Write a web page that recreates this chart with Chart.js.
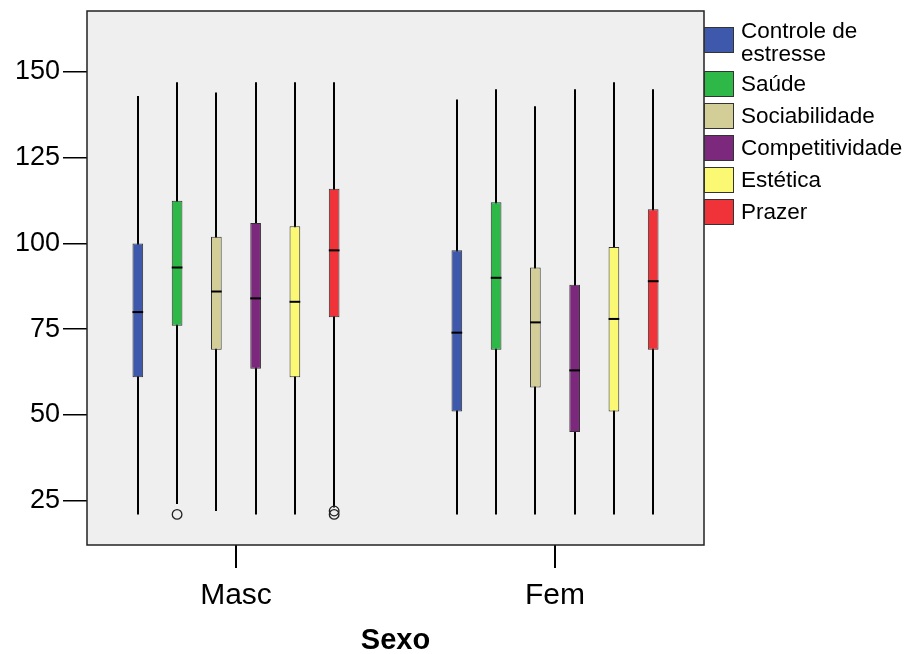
<!DOCTYPE html>
<html><head><meta charset="utf-8">
<script src="https://cdn.jsdelivr.net/npm/chart.js@4/dist/chart.umd.min.js"></script>
<style>html,body{margin:0;padding:0;background:#fff;}</style>
</head><body>
<canvas id="c" width="907" height="654"></canvas>
<script>
// ---- data ----
const categories = ['Masc', 'Fem'];
const seriesNames = [['Controle de', 'estresse'], ['Saúde'], ['Sociabilidade'], ['Competitividade'], ['Estética'], ['Prazer']];
const seriesColors = ['#3e58ac', '#2eb848', '#d3ce97', '#7c287d', '#fbf873', '#ef3338'];
// each row: one series, values for [Masc, Fem]
const whiskerLow  = [[21, 21], [24, 21], [22, 21], [21, 21], [21, 21], [23, 21]];
const q1          = [[61, 51], [76, 69], [69, 58], [63.5, 45], [61, 51], [78.5, 69]];
const median      = [[80, 74], [93, 90], [86, 77], [84, 63], [83, 78], [98, 89]];
const q3          = [[100, 98], [112.5, 112], [102, 93], [106, 88], [105, 99], [116, 110]];
const whiskerHigh = [[143, 142], [147, 145], [144, 140], [147, 145], [147, 147], [147, 145]];
const outliers    = [[[], []], [[21], []], [[], []], [[], []], [[], []], [[22, 21], []]];
const yTickStep = 25;

const FONT = "'Liberation Sans', Arial, Helvetica, sans-serif";

const datasets = seriesNames.map((name, i) => ({
  label: name.join(' '),
  data: categories.map((c, j) => ({ x: j, y: [q1[i][j], q3[i][j]] })),
  backgroundColor: seriesColors[i],
  borderColor: '#333333',
  borderWidth: 1,
  borderSkipped: false,
  categoryPercentage: 0.7385,
  barPercentage: 0.272
}));

const boxPlugin = {
  id: 'boxStats',
  beforeDraw(chart) {
    const { ctx, chartArea: a } = chart;
    ctx.save();
    ctx.fillStyle = '#efefef';
    ctx.fillRect(a.left, a.top, a.right - a.left, a.bottom - a.top);
    ctx.restore();
  },
  beforeDatasetsDraw(chart) {
    const { ctx } = chart;
    const ys = chart.scales.y;
    ctx.save();
    ctx.strokeStyle = '#000';
    ctx.lineWidth = 2;
    chart.data.datasets.forEach((ds, i) => {
      chart.getDatasetMeta(i).data.forEach((bar, j) => {
        const x = Math.round(bar.x);
        ctx.beginPath();
        ctx.moveTo(x, ys.getPixelForValue(whiskerHigh[i][j]));
        ctx.lineTo(x, ys.getPixelForValue(whiskerLow[i][j]));
        ctx.stroke();
      });
    });
    ctx.restore();
  },
  afterDatasetsDraw(chart) {
    const { ctx } = chart;
    const ys = chart.scales.y;
    ctx.save();
    chart.data.datasets.forEach((ds, i) => {
      chart.getDatasetMeta(i).data.forEach((bar, j) => {
        const x = bar.x, w = bar.width;
        ctx.strokeStyle = '#000';
        ctx.lineWidth = 2;
        const yp = ys.getPixelForValue(median[i][j]);
        ctx.beginPath();
        ctx.moveTo(x - w / 2, yp);
        ctx.lineTo(x + w / 2, yp);
        ctx.stroke();
        ctx.lineWidth = 1.3;
        ctx.strokeStyle = '#222';
        outliers[i][j].forEach(v => {
          ctx.beginPath();
          ctx.arc(x, ys.getPixelForValue(v), 4.8, 0, Math.PI * 2);
          ctx.stroke();
        });
      });
    });
    ctx.restore();
  },
  afterDraw(chart) {
    const { ctx, chartArea: a } = chart;
    ctx.save();
    ctx.strokeStyle = '#222';
    ctx.lineWidth = 1.5;
    ctx.strokeRect(a.left, a.top, a.right - a.left, a.bottom - a.top);
    // legend
    ctx.font = '22.5px ' + FONT;
    ctx.textBaseline = 'middle';
    ctx.textAlign = 'left';
    let top = a.top + 16;
    seriesNames.forEach((lines, i) => {
      ctx.fillStyle = seriesColors[i];
      ctx.fillRect(a.right, top, 30, 26);
      ctx.strokeStyle = '#333';
      ctx.lineWidth = 1;
      ctx.strokeRect(a.right + 0.5, top + 0.5, 29, 25);
      ctx.fillStyle = '#000';
      const firstY = lines.length > 1 ? top + 4.5 : top + 14;
      lines.forEach((t, k) => ctx.fillText(t, a.right + 37, firstY + k * 23));
      top += 32 + (lines.length - 1) * 12;
    });
    ctx.restore();
  }
};

new Chart(document.getElementById('c'), {
  type: 'bar',
  data: { datasets },
  plugins: [boxPlugin],
  options: {
    responsive: false,
    animation: false,
    events: [],
    layout: { padding: { top: 11, right: 203, left: 0, bottom: 0 } },
    plugins: { legend: { display: false }, tooltip: { enabled: false } },
    scales: {
      x: {
        type: 'linear',
        min: -0.467,
        max: 1.467,
        offset: false,
        border: { display: false },
        grid: { offset: false, drawOnChartArea: false, drawTicks: true, tickLength: 23, color: '#000', lineWidth: 2 },
        ticks: {
          stepSize: 1, includeBounds: false, padding: 10, color: '#000',
          font: { family: FONT, size: 30 },
          callback: v => categories[v] ?? ''
        },
        title: { display: true, text: 'Sexo', color: '#000', font: { family: FONT, size: 29, weight: 'bold', lineHeight: 1 }, padding: { top: 0, bottom: -1 } },
        afterFit: s => { s.height = 109; s.paddingLeft = 0; s.paddingRight = 0; }
      },
      y: {
        min: 12.08,
        max: 167.8,
        border: { display: false },
        grid: { drawOnChartArea: false, drawTicks: true, tickLength: 24, color: '#000', lineWidth: 1.5 },
        ticks: { stepSize: yTickStep, includeBounds: false, padding: 3, color: '#000', font: { family: FONT, size: 27 } },
        afterFit: s => { s.width = 87; s.paddingTop = 0; s.paddingBottom = 0; }
      }
    }
  }
});
</script>
</body></html>
